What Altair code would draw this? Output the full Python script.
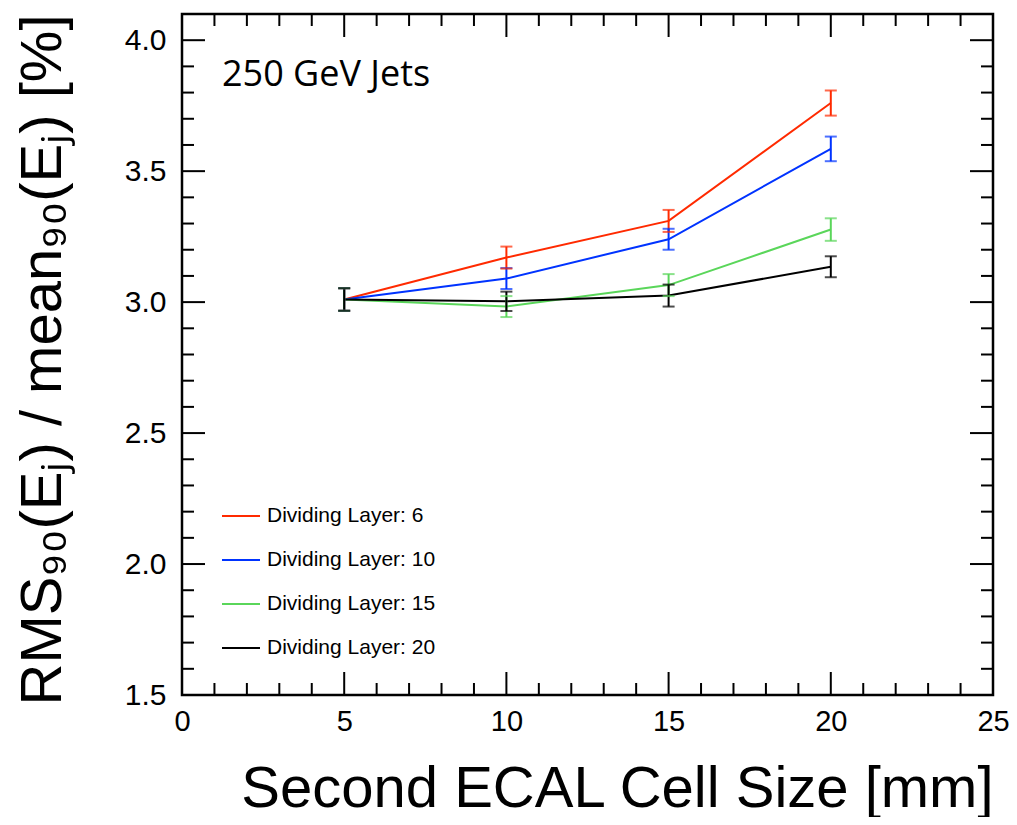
import altair as alt
import pandas as pd

# ---- data ----
cell_sizes = [5, 10, 15, 20]
series_names = ["Dividing Layer: 6", "Dividing Layer: 10",
                "Dividing Layer: 15", "Dividing Layer: 20"]
series_colors = ["#ff2a00", "#0033ff", "#5ad65a", "#000000"]

res_layer6 = [3.01, 3.17, 3.31, 3.76]
err_layer6 = [0.043, 0.042, 0.042, 0.048]
res_layer10 = [3.01, 3.09, 3.24, 3.585]
err_layer10 = [0.043, 0.040, 0.040, 0.047]
res_layer15 = [3.01, 2.983, 3.065, 3.277]
err_layer15 = [0.043, 0.040, 0.042, 0.043]
res_layer20 = [3.01, 3.003, 3.025, 3.135]
err_layer20 = [0.043, 0.037, 0.042, 0.040]

x_label_values = [0, 5, 10, 15, 20, 25]
y_label_values = [1.5, 2.0, 2.5, 3.0, 3.5, 4.0]
x_major_ticks = [0, 5, 10, 15, 20, 25]
x_minor_ticks = [v for v in range(0, 26) if v % 5 != 0]
y_major_ticks = [1.5, 2.0, 2.5, 3.0, 3.5, 4.0]
y_minor_ticks = [1.6, 1.7, 1.8, 1.9, 2.1, 2.2, 2.3, 2.4, 2.6, 2.7, 2.8, 2.9,
                 3.1, 3.2, 3.3, 3.4, 3.6, 3.7, 3.8, 3.9, 4.1]
annotation = ["250 GeV Jets"]

# ---- table ----
rows = []
for name, vals, errs in zip(series_names,
                            [res_layer6, res_layer10, res_layer15, res_layer20],
                            [err_layer6, err_layer10, err_layer15, err_layer20]):
    for s, v, e in zip(cell_sizes, vals, errs):
        rows.append({"series": name, "size": s, "value": v,
                     "lo": v - e, "hi": v + e})
df = pd.DataFrame(rows)

W, H = 811, 681
FONT = "Liberation Sans"

xs = alt.Scale(domain=[0, 25], nice=False, zero=False)
ys = alt.Scale(domain=[1.5, 4.1], nice=False, zero=False)

x_axis = alt.Axis(values=x_label_values, title="Second ECAL Cell Size [mm]",
                  ticks=False, domain=False, grid=False, labelFlush=False,
                  labelOverlap=False, labelFontSize=29, labelFont=FONT,
                  labelColor="black", labelPadding=12, titleFontSize=58,
                  titleFont=FONT, titleFontWeight="normal", titleColor="black",
                  titleAnchor="end", titlePadding=24)
y_axis = alt.Axis(values=y_label_values, format=".1f",
                  title="RMS₉₀(Eⱼ) / mean₉₀(Eⱼ) [%]",
                  ticks=False, domain=False, grid=False, labelFlush=False,
                  labelOverlap=False, labelFontSize=30, labelFont=FONT,
                  labelColor="black", labelPadding=16, titleFontSize=58,
                  titleFont=FONT, titleFontWeight="normal", titleColor="black",
                  titleAnchor="end", titlePadding=52)

color_scale = alt.Scale(domain=series_names, range=series_colors)


def X(field):
    return alt.X(f"{field}:Q", scale=xs, axis=x_axis)


def Y(field):
    return alt.Y(f"{field}:Q", scale=ys, axis=y_axis)


lines = alt.Chart(df).mark_line(strokeWidth=2).encode(
    x=X("size"), y=Y("value"),
    color=alt.Color("series:N", scale=color_scale, sort=series_names,
                    legend=alt.Legend(
                        title=None, orient="none", legendX=39, legendY=482,
                        symbolType="stroke", symbolSize=1444,
                        symbolStrokeWidth=2, labelFont=FONT,
                        labelFontSize=21, labelColor="black", labelLimit=400,
                        labelOffset=6, rowPadding=14, padding=0)),
)

bars = alt.Chart(df).mark_rule(strokeWidth=2).encode(
    x=X("size"), y=Y("lo"), y2="hi:Q",
    color=alt.Color("series:N", scale=color_scale, legend=None),
)
caps_hi = alt.Chart(df).mark_tick(orient="horizontal", size=12, thickness=2).encode(
    x=X("size"), y=Y("hi"),
    color=alt.Color("series:N", scale=color_scale, legend=None),
)
caps_lo = alt.Chart(df).mark_tick(orient="horizontal", size=12, thickness=2).encode(
    x=X("size"), y=Y("lo"),
    color=alt.Color("series:N", scale=color_scale, legend=None),
)


def frame_ticks(values, axis, length):
    d = pd.DataFrame({"v": values})
    layers = []
    if axis == "x":
        for y0, y1 in [(H, H - length), (0, length)]:
            layers.append(alt.Chart(d).mark_rule(color="black", strokeWidth=2).encode(
                x=X("v"), y=alt.value(y0), y2=alt.value(y1)))
    else:
        for x0, x1 in [(0, length), (W, W - length)]:
            layers.append(alt.Chart(d).mark_rule(color="black", strokeWidth=2).encode(
                y=Y("v"), x=alt.value(x0), x2=alt.value(x1)))
    return layers


tick_layers = (frame_ticks(x_major_ticks, "x", 23) + frame_ticks(x_minor_ticks, "x", 12)
               + frame_ticks(y_major_ticks, "y", 23) + frame_ticks(y_minor_ticks, "y", 12))

label = alt.Chart(pd.DataFrame({"t": annotation})).mark_text(
    font="Open Sans", fontSize=36, align="left", baseline="alphabetic", color="black"
).encode(x=alt.value(40), y=alt.value(72), text="t:N")

chart = alt.layer(*tick_layers, lines, bars, caps_hi, caps_lo, label).properties(
    width=W, height=H,
    background="white",
    autosize=alt.AutoSizeParams(type="none"),
    padding={"left": 174, "top": 6, "right": 16, "bottom": 122},
).configure_view(stroke="black", strokeWidth=2.5)

chart.save("out.html", embed_options={"renderer": "svg", "actions": False})
